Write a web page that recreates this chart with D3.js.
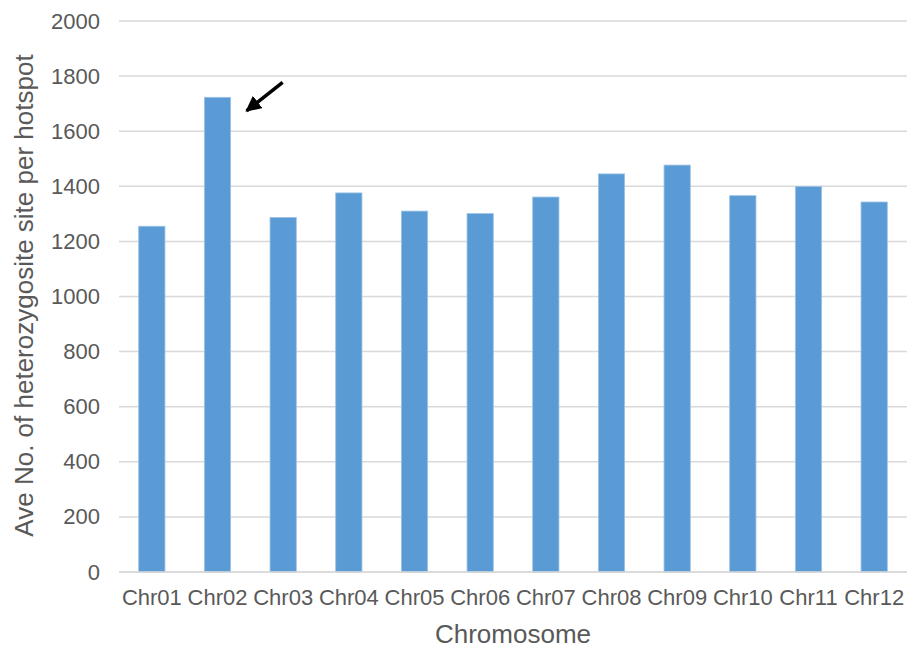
<!DOCTYPE html>
<html>
<head>
<meta charset="utf-8">
<script src="https://cdn.jsdelivr.net/npm/d3@7"></script>
<style>
  html, body { margin: 0; padding: 0; background: #fff; }
  svg { display: block; font-family: "Liberation Sans", Arial, sans-serif; }
</style>
</head>
<body>
<svg id="chart" width="909" height="651"></svg>
<script>
// Average number of heterozygous sites per hotspot, by chromosome
const chromosomes = ["Chr01", "Chr02", "Chr03", "Chr04", "Chr05", "Chr06",
                     "Chr07", "Chr08", "Chr09", "Chr10", "Chr11", "Chr12"];
const aveSites = [1255, 1723, 1287, 1376, 1310, 1301, 1361, 1445, 1477, 1366, 1399, 1343];
const yTicks = [0, 200, 400, 600, 800, 1000, 1200, 1400, 1600, 1800, 2000];
const highlighted = "Chr02";

const svg = d3.select("#chart");
const margin = { left: 119, right: 2, top: 21, bottom: 79 };
const W = 909, H = 651;

const x = d3.scaleBand()
  .domain(chromosomes)
  .range([margin.left, W - margin.right])
  .paddingInner(0.6)
  .paddingOuter(0.3);

const y = d3.scaleLinear()
  .domain([0, 2000])
  .range([H - margin.bottom, margin.top]);

const grey = "#595959";

// horizontal gridlines
svg.append("g")
  .selectAll("line")
  .data(yTicks)
  .join("line")
  .attr("x1", margin.left)
  .attr("x2", W - margin.right)
  .attr("y1", d => y(d))
  .attr("y2", d => y(d))
  .attr("stroke", "#d9d9d9")
  .attr("stroke-width", 1.5);

// y axis labels
const yAxis = svg.append("g")
  .attr("transform", `translate(${margin.left},0)`)
  .call(d3.axisLeft(y).tickValues(yTicks).tickFormat(d3.format("d")).tickSize(0).tickPadding(19));
yAxis.select(".domain").remove();
yAxis.selectAll("text")
  .attr("fill", grey)
  .style("font-size", "22px")
  .style("font-family", "'Liberation Sans', Arial, sans-serif");

// bars
svg.append("g")
  .selectAll("rect")
  .data(chromosomes.map((c, i) => ({ c, v: aveSites[i] })))
  .join("rect")
  .attr("x", d => x(d.c))
  .attr("y", d => y(d.v))
  .attr("width", x.bandwidth())
  .attr("height", d => y(0) - y(d.v))
  .attr("fill", "#5b9bd5")
  .attr("stroke", "#9cc2e5")
  .attr("stroke-width", 0.8);

// x axis
const xAxis = svg.append("g")
  .attr("transform", `translate(0,${y(0)})`)
  .call(d3.axisBottom(x).tickSize(0).tickPadding(17));
xAxis.select(".domain")
  .attr("stroke", "#d9d9d9")
  .attr("stroke-width", 1.5)
  .attr("d", `M${margin.left},0H${W - margin.right}`);
xAxis.selectAll("text")
  .attr("fill", grey)
  .style("font-size", "22px")
  .style("font-family", "'Liberation Sans', Arial, sans-serif");

// axis titles
svg.append("text")
  .attr("x", (margin.left + W - margin.right) / 2)
  .attr("y", 643)
  .attr("text-anchor", "middle")
  .attr("fill", grey)
  .style("font-size", "26px")
  .text("Chromosome");

svg.append("text")
  .attr("transform", `translate(33,${(538 + 53) / 2}) rotate(-90)`)
  .attr("text-anchor", "middle")
  .attr("fill", grey)
  .style("font-size", "26px")
  .text("Ave No. of heterozygosite site per hotspot");

// arrow pointing at the highlighted chromosome
svg.append("defs").append("marker")
  .attr("id", "arrowhead")
  .attr("viewBox", "0 0 10 10")
  .attr("refX", 9)
  .attr("refY", 5)
  .attr("markerWidth", 4.5)
  .attr("markerHeight", 4.5)
  .attr("markerUnits", "strokeWidth")
  .attr("orient", "auto")
  .append("path")
  .attr("d", "M0,0L10,5L0,10Z")
  .attr("fill", "#000");

const hi = chromosomes.indexOf(highlighted);
const tipX = x(highlighted) + x.bandwidth() + 14;
const tipY = y(aveSites[hi]) + 15;
svg.append("line")
  .attr("x1", tipX + 38)
  .attr("y1", tipY - 30)
  .attr("x2", tipX + 2)
  .attr("y2", tipY - 1.5)
  .attr("stroke", "#000")
  .attr("stroke-width", 3.5)
  .attr("marker-end", "url(#arrowhead)");
</script>
</body>
</html>
